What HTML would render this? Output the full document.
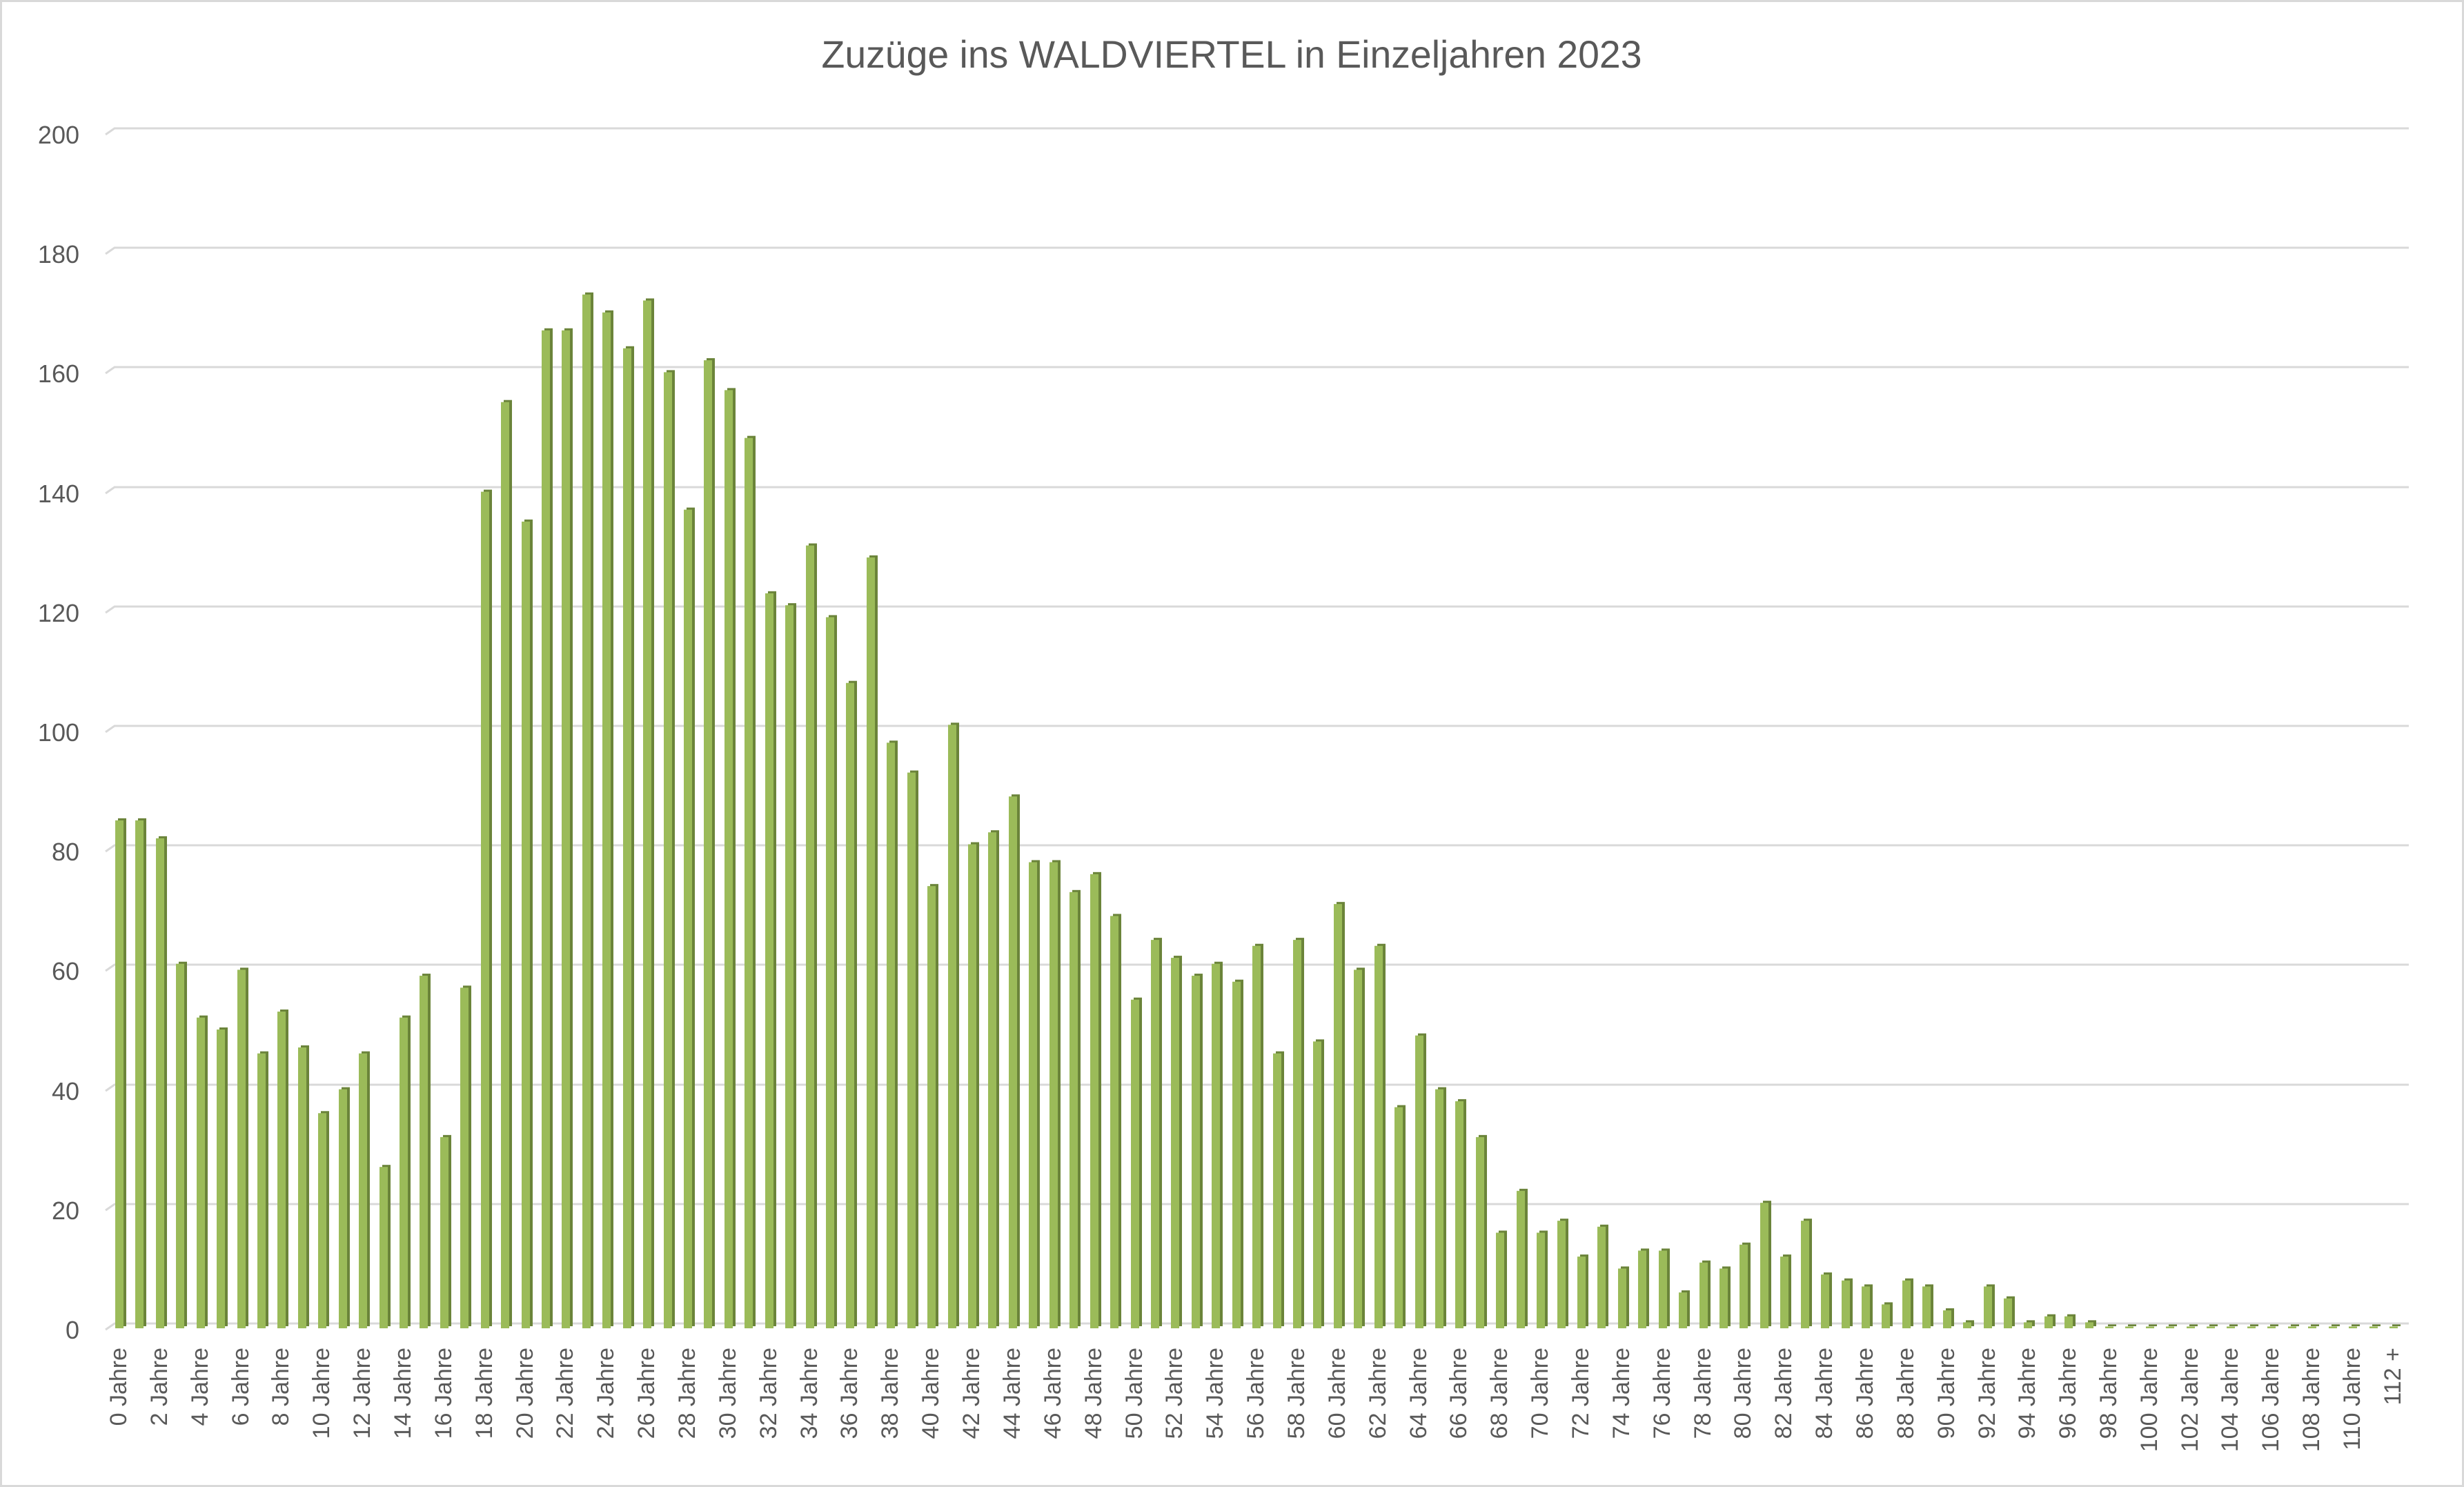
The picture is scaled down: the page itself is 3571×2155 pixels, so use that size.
<!DOCTYPE html>
<html><head><meta charset="utf-8"><style>
html,body{margin:0;padding:0;background:#fff}
svg{display:block}
text{font-family:"Liberation Sans",sans-serif;fill:#595959}
</style></head><body>
<svg width="3571" height="2155" viewBox="0 0 3571 2155" xmlns="http://www.w3.org/2000/svg">
<rect x="1.5" y="1.5" width="3568" height="2152" fill="#fff" stroke="#D9D9D9" stroke-width="3"/>
<text x="1785" y="98" font-size="56" text-anchor="middle" textLength="1189" lengthAdjust="spacingAndGlyphs">Zuzüge ins WALDVIERTEL in Einzeljahren 2023</text>
<g stroke="#D9D9D9" stroke-width="3" fill="none">
<path d="M153 1927 L166 1918 H3491"/>
<path d="M153 1754 L166 1745 H3491"/>
<path d="M153 1581 L166 1572 H3491"/>
<path d="M153 1407 L166 1398 H3491"/>
<path d="M153 1234 L166 1225 H3491"/>
<path d="M153 1061 L166 1052 H3491"/>
<path d="M153 888 L166 879 H3491"/>
<path d="M153 715 L166 706 H3491"/>
<path d="M153 541 L166 532 H3491"/>
<path d="M153 368 L166 359 H3491"/>
<path d="M153 195 L166 186 H3491"/>
</g>
<g font-size="36" text-anchor="end">
<text x="115" y="1940">0</text>
<text x="115" y="1767">20</text>
<text x="115" y="1594">40</text>
<text x="115" y="1420">60</text>
<text x="115" y="1247">80</text>
<text x="115" y="1074">100</text>
<text x="115" y="901">120</text>
<text x="115" y="728">140</text>
<text x="115" y="554">160</text>
<text x="115" y="381">180</text>
<text x="115" y="208">200</text>
</g>
<defs>
<g id="bars">
<rect x="167" y="0" width="12" height="85"/><rect x="196" y="0" width="12" height="85"/><rect x="226" y="0" width="12" height="82"/><rect x="255" y="0" width="12" height="61"/><rect x="285" y="0" width="12" height="52"/><rect x="314" y="0" width="12" height="50"/><rect x="344" y="0" width="12" height="60"/><rect x="373" y="0" width="12" height="46"/><rect x="402" y="0" width="12" height="53"/><rect x="432" y="0" width="12" height="47"/><rect x="461" y="0" width="12" height="36"/><rect x="491" y="0" width="12" height="40"/><rect x="520" y="0" width="12" height="46"/><rect x="550" y="0" width="12" height="27"/><rect x="579" y="0" width="12" height="52"/><rect x="608" y="0" width="12" height="59"/><rect x="638" y="0" width="12" height="32"/><rect x="667" y="0" width="12" height="57"/><rect x="697" y="0" width="12" height="140"/><rect x="726" y="0" width="12" height="155"/><rect x="756" y="0" width="12" height="135"/><rect x="785" y="0" width="12" height="167"/><rect x="814" y="0" width="12" height="167"/><rect x="844" y="0" width="12" height="173"/><rect x="873" y="0" width="12" height="170"/><rect x="903" y="0" width="12" height="164"/><rect x="932" y="0" width="12" height="172"/><rect x="962" y="0" width="12" height="160"/><rect x="991" y="0" width="12" height="137"/><rect x="1020" y="0" width="12" height="162"/><rect x="1050" y="0" width="12" height="157"/><rect x="1079" y="0" width="12" height="149"/><rect x="1109" y="0" width="12" height="123"/><rect x="1138" y="0" width="12" height="121"/><rect x="1168" y="0" width="12" height="131"/><rect x="1197" y="0" width="12" height="119"/><rect x="1226" y="0" width="12" height="108"/><rect x="1256" y="0" width="12" height="129"/><rect x="1285" y="0" width="12" height="98"/><rect x="1315" y="0" width="12" height="93"/><rect x="1344" y="0" width="12" height="74"/><rect x="1374" y="0" width="12" height="101"/><rect x="1403" y="0" width="12" height="81"/><rect x="1432" y="0" width="12" height="83"/><rect x="1462" y="0" width="12" height="89"/><rect x="1491" y="0" width="12" height="78"/><rect x="1521" y="0" width="12" height="78"/><rect x="1550" y="0" width="12" height="73"/><rect x="1580" y="0" width="12" height="76"/><rect x="1609" y="0" width="12" height="69"/><rect x="1639" y="0" width="12" height="55"/><rect x="1668" y="0" width="12" height="65"/><rect x="1697" y="0" width="12" height="62"/><rect x="1727" y="0" width="12" height="59"/><rect x="1756" y="0" width="12" height="61"/><rect x="1786" y="0" width="12" height="58"/><rect x="1815" y="0" width="12" height="64"/><rect x="1845" y="0" width="12" height="46"/><rect x="1874" y="0" width="12" height="65"/><rect x="1903" y="0" width="12" height="48"/><rect x="1933" y="0" width="12" height="71"/><rect x="1962" y="0" width="12" height="60"/><rect x="1992" y="0" width="12" height="64"/><rect x="2021" y="0" width="12" height="37"/><rect x="2051" y="0" width="12" height="49"/><rect x="2080" y="0" width="12" height="40"/><rect x="2109" y="0" width="12" height="38"/><rect x="2139" y="0" width="12" height="32"/><rect x="2168" y="0" width="12" height="16"/><rect x="2198" y="0" width="12" height="23"/><rect x="2227" y="0" width="12" height="16"/><rect x="2257" y="0" width="12" height="18"/><rect x="2286" y="0" width="12" height="12"/><rect x="2315" y="0" width="12" height="17"/><rect x="2345" y="0" width="12" height="10"/><rect x="2374" y="0" width="12" height="13"/><rect x="2404" y="0" width="12" height="13"/><rect x="2433" y="0" width="12" height="6"/><rect x="2463" y="0" width="12" height="11"/><rect x="2492" y="0" width="12" height="10"/><rect x="2521" y="0" width="12" height="14"/><rect x="2551" y="0" width="12" height="21"/><rect x="2580" y="0" width="12" height="12"/><rect x="2610" y="0" width="12" height="18"/><rect x="2639" y="0" width="12" height="9"/><rect x="2669" y="0" width="12" height="8"/><rect x="2698" y="0" width="12" height="7"/><rect x="2727" y="0" width="12" height="4"/><rect x="2757" y="0" width="12" height="8"/><rect x="2786" y="0" width="12" height="7"/><rect x="2816" y="0" width="12" height="3"/><rect x="2845" y="0" width="12" height="1"/><rect x="2875" y="0" width="12" height="7"/><rect x="2904" y="0" width="12" height="5"/><rect x="2933" y="0" width="12" height="1"/><rect x="2963" y="0" width="12" height="2"/><rect x="2992" y="0" width="12" height="2"/><rect x="3022" y="0" width="12" height="1"/>
<rect x="3051" y="0" width="12" height="0.3"/><rect x="3080" y="0" width="12" height="0.3"/><rect x="3110" y="0" width="12" height="0.3"/><rect x="3139" y="0" width="12" height="0.3"/><rect x="3169" y="0" width="12" height="0.3"/><rect x="3198" y="0" width="12" height="0.3"/><rect x="3227" y="0" width="12" height="0.3"/><rect x="3257" y="0" width="12" height="0.3"/><rect x="3286" y="0" width="12" height="0.3"/><rect x="3316" y="0" width="12" height="0.3"/><rect x="3345" y="0" width="12" height="0.3"/><rect x="3375" y="0" width="12" height="0.3"/><rect x="3404" y="0" width="12" height="0.3"/><rect x="3434" y="0" width="12" height="0.3"/><rect x="3463" y="0" width="12" height="0.3"/>
</g>
</defs>
<g fill="#6B843A" transform="translate(4,1922) scale(1,-8.66)"><use href="#bars"/></g>
<g fill="#9BBB59" transform="translate(0,1925) scale(1,-8.66)"><use href="#bars"/></g>
<g font-size="34" text-anchor="end">
<text transform="translate(183,1953) rotate(-90)">0 Jahre</text>
<text transform="translate(242,1953) rotate(-90)">2 Jahre</text>
<text transform="translate(301,1953) rotate(-90)">4 Jahre</text>
<text transform="translate(360,1953) rotate(-90)">6 Jahre</text>
<text transform="translate(418,1953) rotate(-90)">8 Jahre</text>
<text transform="translate(477,1953) rotate(-90)">10 Jahre</text>
<text transform="translate(536,1953) rotate(-90)">12 Jahre</text>
<text transform="translate(595,1953) rotate(-90)">14 Jahre</text>
<text transform="translate(654,1953) rotate(-90)">16 Jahre</text>
<text transform="translate(713,1953) rotate(-90)">18 Jahre</text>
<text transform="translate(772,1953) rotate(-90)">20 Jahre</text>
<text transform="translate(830,1953) rotate(-90)">22 Jahre</text>
<text transform="translate(889,1953) rotate(-90)">24 Jahre</text>
<text transform="translate(948,1953) rotate(-90)">26 Jahre</text>
<text transform="translate(1007,1953) rotate(-90)">28 Jahre</text>
<text transform="translate(1066,1953) rotate(-90)">30 Jahre</text>
<text transform="translate(1125,1953) rotate(-90)">32 Jahre</text>
<text transform="translate(1184,1953) rotate(-90)">34 Jahre</text>
<text transform="translate(1242,1953) rotate(-90)">36 Jahre</text>
<text transform="translate(1301,1953) rotate(-90)">38 Jahre</text>
<text transform="translate(1360,1953) rotate(-90)">40 Jahre</text>
<text transform="translate(1419,1953) rotate(-90)">42 Jahre</text>
<text transform="translate(1478,1953) rotate(-90)">44 Jahre</text>
<text transform="translate(1537,1953) rotate(-90)">46 Jahre</text>
<text transform="translate(1596,1953) rotate(-90)">48 Jahre</text>
<text transform="translate(1655,1953) rotate(-90)">50 Jahre</text>
<text transform="translate(1713,1953) rotate(-90)">52 Jahre</text>
<text transform="translate(1772,1953) rotate(-90)">54 Jahre</text>
<text transform="translate(1831,1953) rotate(-90)">56 Jahre</text>
<text transform="translate(1890,1953) rotate(-90)">58 Jahre</text>
<text transform="translate(1949,1953) rotate(-90)">60 Jahre</text>
<text transform="translate(2008,1953) rotate(-90)">62 Jahre</text>
<text transform="translate(2067,1953) rotate(-90)">64 Jahre</text>
<text transform="translate(2125,1953) rotate(-90)">66 Jahre</text>
<text transform="translate(2184,1953) rotate(-90)">68 Jahre</text>
<text transform="translate(2243,1953) rotate(-90)">70 Jahre</text>
<text transform="translate(2302,1953) rotate(-90)">72 Jahre</text>
<text transform="translate(2361,1953) rotate(-90)">74 Jahre</text>
<text transform="translate(2420,1953) rotate(-90)">76 Jahre</text>
<text transform="translate(2479,1953) rotate(-90)">78 Jahre</text>
<text transform="translate(2537,1953) rotate(-90)">80 Jahre</text>
<text transform="translate(2596,1953) rotate(-90)">82 Jahre</text>
<text transform="translate(2655,1953) rotate(-90)">84 Jahre</text>
<text transform="translate(2714,1953) rotate(-90)">86 Jahre</text>
<text transform="translate(2773,1953) rotate(-90)">88 Jahre</text>
<text transform="translate(2832,1953) rotate(-90)">90 Jahre</text>
<text transform="translate(2891,1953) rotate(-90)">92 Jahre</text>
<text transform="translate(2949,1953) rotate(-90)">94 Jahre</text>
<text transform="translate(3008,1953) rotate(-90)">96 Jahre</text>
<text transform="translate(3067,1953) rotate(-90)">98 Jahre</text>
<text transform="translate(3126,1953) rotate(-90)">100 Jahre</text>
<text transform="translate(3185,1953) rotate(-90)">102 Jahre</text>
<text transform="translate(3243,1953) rotate(-90)">104 Jahre</text>
<text transform="translate(3302,1953) rotate(-90)">106 Jahre</text>
<text transform="translate(3361,1953) rotate(-90)">108 Jahre</text>
<text transform="translate(3420,1953) rotate(-90)">110 Jahre</text>
<text transform="translate(3479,1953) rotate(-90)">112 +</text>
</g>
</svg>
</body></html>
